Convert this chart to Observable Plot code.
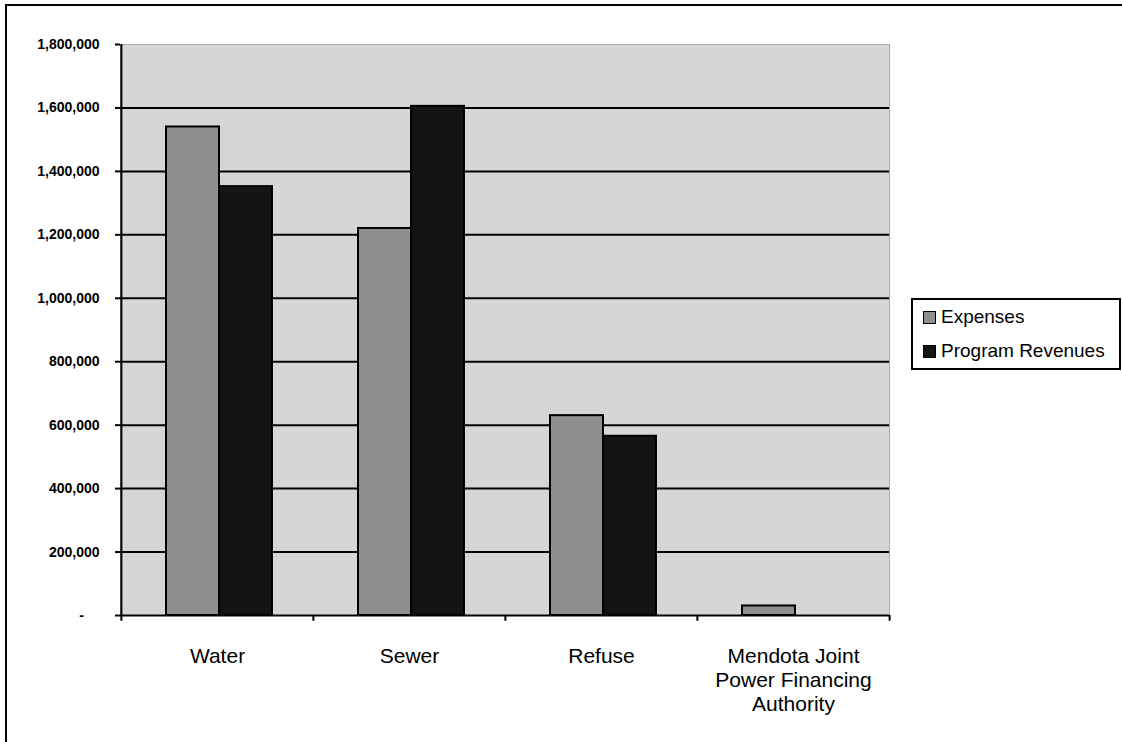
<!DOCTYPE html>
<html>
<head>
<meta charset="utf-8">
<script src="https://cdn.jsdelivr.net/npm/d3@7"></script>
<script src="https://cdn.jsdelivr.net/npm/@observablehq/plot@0.6"></script>
<style>
  body { margin: 0; background: #fff; font-family: Arial, "Liberation Sans", sans-serif; }
  #wrap { position: relative; width: 1122px; height: 742px; overflow: hidden; }
  #border { position: absolute; left: 5px; top: 4px; right: -10px; bottom: -10px;
            border-top: 2px solid #000; border-left: 2px solid #000; pointer-events: none; }
  #legend { position: absolute; left: 911px; top: 298px; width: 206px; height: 68px;
            border: 2px solid #000; background: #fff; font-size: 19px; color: #000;
            font-family: Arial, "Liberation Sans", sans-serif; overflow: hidden; }
  .item { height: 34px; line-height: 34px; display: flex; align-items: center; padding-left: 10px; white-space: nowrap; }
  .sw { width: 11px; height: 11px; border: 1px solid #000; margin-right: 5px; flex: none; }
</style>
</head>
<body>
<div id="wrap">
  <div id="chart"></div>
  <div id="border"></div>
  <div id="legend"></div>
</div>
<script>
// ---- data ----
const categories = ["Water", "Sewer", "Refuse", "Mendota Joint Power Financing Authority"];
const categoryLabels = ["Water", "Sewer", "Refuse", "Mendota Joint\nPower Financing\nAuthority"];
const seriesNames = ["Expenses", "Program Revenues"];
const expenses = [1540000, 1220000, 630000, 30000];
const revenues = [1352000, 1605000, 565000, null];
const yTicks = [0, 200000, 400000, 600000, 800000, 1000000, 1200000, 1400000, 1600000, 1800000];
const seriesColors = ["#8f8f8f", "#141414"];

const expenseRows = categories.map((c, i) => ({category: c, series: seriesNames[0], value: expenses[i]})).filter(d => d.value != null);
const revenueRows = categories.map((c, i) => ({category: c, series: seriesNames[1], value: revenues[i]})).filter(d => d.value != null);
const labelOf = new Map(categories.map((c, i) => [c, categoryLabels[i]]));

const half = 769 / categories.length / 2;

const chart = Plot.plot({
  width: 1122,
  height: 742,
  marginLeft: 120,
  marginRight: 233,
  marginTop: 44,
  marginBottom: 127,
  style: { fontFamily: "Arial, 'Liberation Sans', sans-serif", background: "transparent", color: "#000" },
  x: { domain: categories, padding: 0, axis: null },
  y: { domain: [0, 1800000], axis: null },
  marks: [
    Plot.frame({ fill: "#d6d6d6", stroke: "#6a6a6a", strokeDasharray: "1,1" }),
    Plot.ruleY(yTicks.filter(t => t > 0 && t < 1800000), { stroke: "#000", strokeWidth: 2 }),
    Plot.barY(expenseRows, { x: "category", y: "value", fill: seriesColors[0], stroke: "#000", strokeWidth: 2, insetLeft: 45, insetRight: 94 }),
    Plot.barY(revenueRows, { x: "category", y: "value", fill: seriesColors[1], stroke: "#000", strokeWidth: 2, insetLeft: 98, insetRight: 41 }),
    Plot.ruleY([0], { stroke: "#000", strokeWidth: 2 }),
    Plot.ruleX([categories[0]], { y1: 0, y2: 1800000, dx: -half, stroke: "#000", strokeWidth: 2 }),
    Plot.ruleX(categories, { x: d => d, y1: 0, y2: -18000, dx: -half, stroke: "#000", strokeWidth: 2 }),
    Plot.ruleX([categories[categories.length - 1]], { y1: 0, y2: -18000, dx: half, stroke: "#000", strokeWidth: 2 }),
    Plot.axisY(yTicks, { label: null, tickSize: 5, tickPadding: 16, strokeWidth: 2, fontSize: 14, fontWeight: "bold",
      tickFormat: d => d === 0 ? "-\u2007\u2007" : d3.format(",")(d) }),
    Plot.axisX({ label: null, tickSize: 0, tickPadding: 30, fontSize: 21, lineHeight: 1.15,
      tickFormat: d => labelOf.get(d) })
  ]
});
document.getElementById("chart").appendChild(chart);

const legend = document.getElementById("legend");
seriesNames.forEach((s, i) => {
  const item = document.createElement("div");
  item.className = "item";
  const sw = document.createElement("span");
  sw.className = "sw";
  sw.style.background = seriesColors[i];
  const t = document.createElement("span");
  t.textContent = s;
  item.appendChild(sw);
  item.appendChild(t);
  legend.appendChild(item);
});
</script>
</body>
</html>
